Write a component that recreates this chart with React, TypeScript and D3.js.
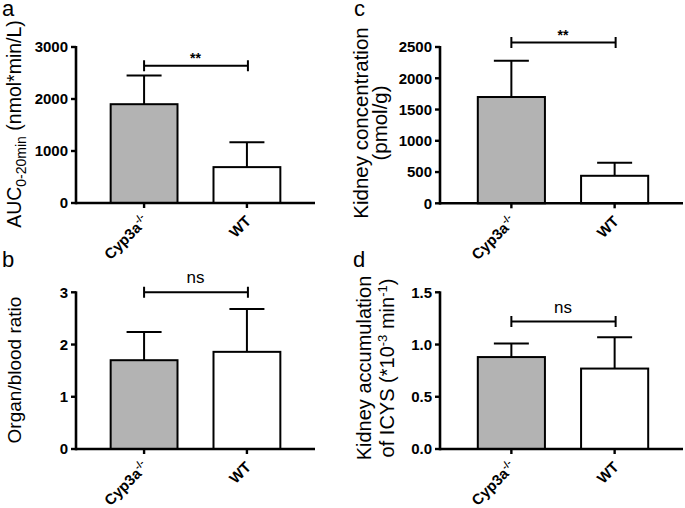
import React from "react";
import * as d3 from "d3";

// groups + values (mean, SD upward only)
const groups = ["Cyp3a", "WT"];
const barFills = ["#b3b3b3", "#ffffff"];

const aucMeans = [1900, 690];
const aucSd = [550, 480];
const aucTicks = [0, 1000, 2000, 3000];

const ratioMeans = [1.7, 1.86];
const ratioSd = [0.54, 0.82];
const ratioTicks = [0, 1, 2, 3];

const kidneyMeans = [1700, 440];
const kidneySd = [580, 210];
const kidneyTicks = [0, 500, 1000, 1500, 2000, 2500];

const accumMeans = [0.88, 0.77];
const accumSd = [0.13, 0.3];
const accumTicks = [0, 0.5, 1.0, 1.5];

const FONT = "'Liberation Sans', Arial, Helvetica, sans-serif";

function Panel({ letter, letterX, letterY, axisX, xRange, yRange, max, ticks, fmt,
  means, sds, bracket, sig, sigBold, label }) {
  const x = d3.scaleBand().domain(groups).range(xRange).paddingInner(0.35).paddingOuter(0.337);
  const y = d3.scaleLinear().domain([0, max]).range(yRange);
  const y0 = y(0);
  const cx = (g) => x(g) + x.bandwidth() / 2;
  const by = y(bracket);
  const capHalf = 17.5;

  return (
    <g>
      <text x={letterX} y={letterY} fontSize={22} fontFamily={FONT}>{letter}</text>
      {label}
      {groups.map((g, i) => (
        <g key={g}>
          <line x1={cx(g)} x2={cx(g)} y1={y(means[i])} y2={y(means[i] + sds[i])} stroke="#000" strokeWidth={2} />
          <line x1={cx(g) - capHalf} x2={cx(g) + capHalf} y1={y(means[i] + sds[i])} y2={y(means[i] + sds[i])} stroke="#000" strokeWidth={2} />
          <rect x={x(g)} width={x.bandwidth()} y={y(means[i])} height={y0 - y(means[i])}
            fill={barFills[i]} stroke="#000" strokeWidth={2} />
        </g>
      ))}
      {/* y axis */}
      <line x1={axisX} x2={axisX} y1={y(max) - 1} y2={y0 + 1.3} stroke="#000" strokeWidth={2.6} />
      {ticks.map((t) => (
        <g key={t}>
          <line x1={axisX - 5} x2={axisX} y1={y(t)} y2={y(t)} stroke="#000" strokeWidth={2.4} />
          <text x={axisX - 8} y={y(t)} dy="0.36em" textAnchor="end" fontSize={15} fontWeight="bold" fontFamily={FONT}>{fmt(t)}</text>
        </g>
      ))}
      {/* x axis */}
      <line x1={axisX} x2={xRange[1]} y1={y0} y2={y0} stroke="#000" strokeWidth={2.6} />
      {groups.map((g) => (
        <g key={g}>
          <line x1={cx(g)} x2={cx(g)} y1={y0} y2={y0 + 5} stroke="#000" strokeWidth={2.4} />
          <text transform={`translate(${cx(g) + 5},${y0 + 19}) rotate(-45)`} textAnchor="end"
            fontSize={15} fontWeight="bold" fontFamily={FONT}>
            {g}
            {g === "Cyp3a" && <tspan fontSize={10} dy={-6}>-/-</tspan>}
          </text>
        </g>
      ))}
      {/* significance bracket */}
      <path d={`M${cx(groups[0])},${by - 5.5}V${by + 5.5}M${cx(groups[0])},${by}H${cx(groups[1]) + 1}M${cx(groups[1]) + 1},${by - 5.5}V${by + 5.5}`}
        fill="none" stroke="#000" strokeWidth={2} />
      <text x={(cx(groups[0]) + cx(groups[1])) / 2} y={sigBold ? by - 3 : by - 9} textAnchor="middle"
        fontSize={sigBold ? 14 : 17} fontWeight={sigBold ? "bold" : "normal"} fontFamily={FONT}>{sig}</text>
    </g>
  );
}

export default function App() {
  const int = (v) => d3.format("d")(v);
  const one = (v) => d3.format(".1f")(v);
  return (
    <svg width={685} height={508} style={{ position: "absolute", left: 0, top: 0, background: "#fff" }}>
      <Panel letter="a" letterX={2} letterY={16} axisX={76} xRange={[76, 315]} yRange={[203, 47]}
        max={3000} ticks={aucTicks} fmt={int} means={aucMeans} sds={aucSd} bracket={2640} sig="**" sigBold
        label={
          <text transform="translate(21,124) rotate(-90)" textAnchor="middle" fontSize={19.5} fontFamily={FONT}>
            AUC<tspan fontSize={14} dy={5}>0-20min</tspan><tspan dy={-5}> (nmol*min/L)</tspan>
          </text>
        } />
      <Panel letter="b" letterX={2} letterY={267} axisX={76} xRange={[76, 315]} yRange={[449, 292.3]}
        max={3} ticks={ratioTicks} fmt={int} means={ratioMeans} sds={ratioSd} bracket={3} sig="ns"
        label={
          <text transform="translate(21,370) rotate(-90)" textAnchor="middle" fontSize={19} fontFamily={FONT}>
            Organ/blood ratio
          </text>
        } />
      <Panel letter="c" letterX={354} letterY={16} axisX={440} xRange={[443, 683]} yRange={[203.3, 47]}
        max={2500} ticks={kidneyTicks} fmt={int} means={kidneyMeans} sds={kidneySd} bracket={2570} sig="**" sigBold
        label={
          <g>
            <text transform="translate(368,123) rotate(-90)" textAnchor="middle" fontSize={20.5} fontFamily={FONT}>
              Kidney concentration
            </text>
            <text transform="translate(387,123) rotate(-90)" textAnchor="middle" fontSize={20.5} fontFamily={FONT}>
              (pmol/g)
            </text>
          </g>
        } />
      <Panel letter="d" letterX={353} letterY={267} axisX={440} xRange={[443, 683]} yRange={[449, 292.3]}
        max={1.5} ticks={accumTicks} fmt={one} means={accumMeans} sds={accumSd} bracket={1.22} sig="ns"
        label={
          <g>
            <text transform="translate(371,368) rotate(-90)" textAnchor="middle" fontSize={20} fontFamily={FONT}>
              Kidney accumulation
            </text>
            <text transform="translate(394,368) rotate(-90)" textAnchor="middle" fontSize={20} fontFamily={FONT}>
              of ICYS (*10<tspan fontSize={13} dy={-7}>-3</tspan><tspan dy={7}> min</tspan><tspan fontSize={13} dy={-7}>-1</tspan><tspan dy={7}>)</tspan>
            </text>
          </g>
        } />
    </svg>
  );
}
